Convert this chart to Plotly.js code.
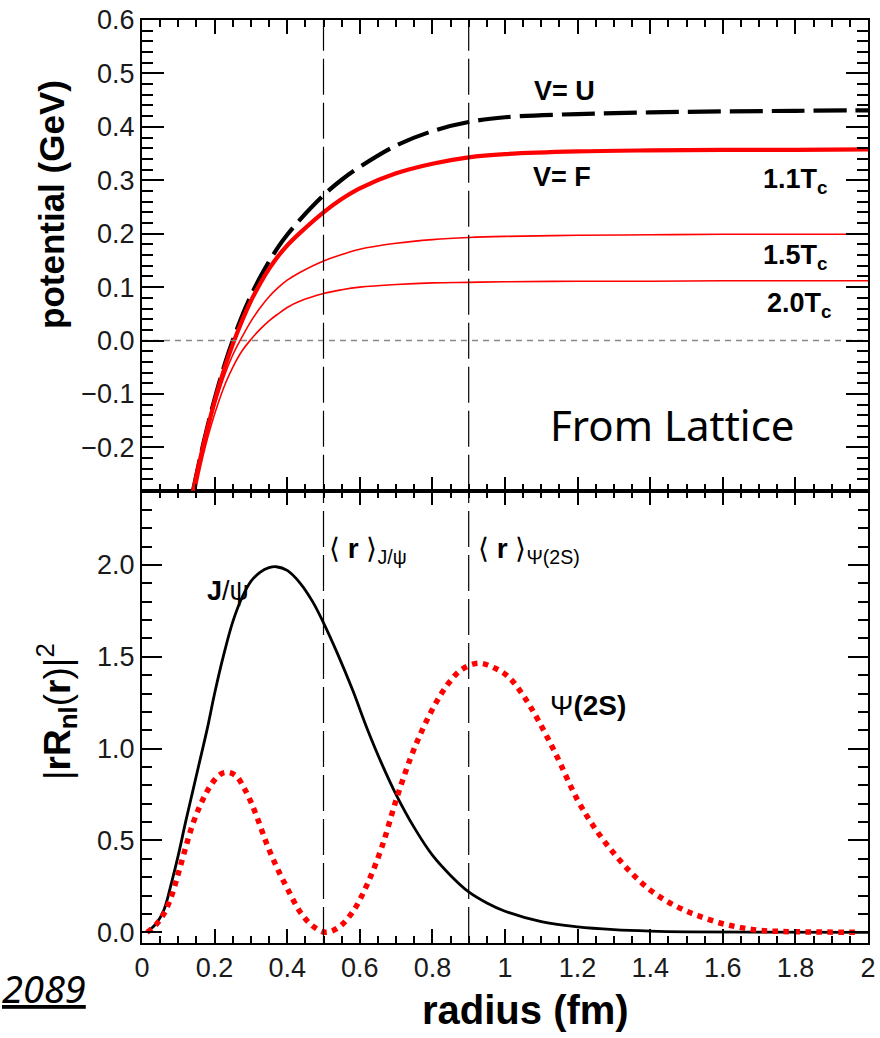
<!DOCTYPE html>
<html>
<head>
<meta charset="utf-8">
<script src="https://cdn.plot.ly/plotly-3.0.1.min.js"></script>
<style>
  html, body { margin: 0; padding: 0; background: #fff; }
  #chart { width: 880px; height: 1038px; }
</style>
</head>
<body>
<div id="chart"></div>
<script>
// ---- Heavy-quark potentials from lattice (GeV) vs radius (fm) ----
const rU   = [0.14,0.155,0.17,0.19,0.21,0.23,0.25,0.275,0.30,0.325,0.35,0.375,0.40,0.436,0.50,0.55,0.60,0.70,0.80,0.90,1.0,1.2,1.4,1.6,1.8,2.0];
const vU   = [-0.283,-0.235,-0.19,-0.135,-0.085,-0.04,0.0,0.045,0.084,0.118,0.148,0.175,0.198,0.227,0.272,0.301,0.325,0.365,0.392,0.409,0.418,0.424,0.427,0.429,0.430,0.431];

const rF11 = [0.14,0.155,0.17,0.19,0.21,0.23,0.25,0.275,0.30,0.325,0.35,0.375,0.40,0.436,0.50,0.55,0.60,0.70,0.80,0.90,1.0,1.2,1.4,1.6,1.8,2.0];
const vF11 = [-0.285,-0.237,-0.193,-0.139,-0.09,-0.046,-0.007,0.036,0.074,0.106,0.134,0.158,0.178,0.202,0.240,0.265,0.285,0.313,0.331,0.343,0.349,0.354,0.356,0.357,0.357,0.358];

const rF15 = [0.142,0.155,0.17,0.19,0.21,0.23,0.25,0.275,0.30,0.325,0.35,0.375,0.40,0.436,0.50,0.55,0.60,0.70,0.80,0.90,1.0,1.2,1.4,1.6,1.8,2.0];
const vF15 = [-0.283,-0.24,-0.197,-0.146,-0.10,-0.06,-0.027,0.006,0.036,0.061,0.082,0.099,0.113,0.128,0.149,0.161,0.171,0.182,0.189,0.193,0.195,0.197,0.198,0.199,0.199,0.199];

const rF20 = [0.147,0.16,0.175,0.19,0.21,0.23,0.25,0.275,0.30,0.325,0.35,0.375,0.40,0.436,0.50,0.55,0.60,0.70,0.80,0.90,1.0,1.2,1.4,1.6,1.8,2.0];
const vF20 = [-0.283,-0.24,-0.197,-0.16,-0.117,-0.08,-0.05,-0.02,0.002,0.021,0.037,0.05,0.062,0.074,0.088,0.095,0.100,0.105,0.108,0.109,0.110,0.111,0.111,0.112,0.112,0.112];

// ---- Radial probability densities |rR_nl(r)|^2 ----
const rJpsi = [0.014,0.04,0.06,0.08,0.10,0.12,0.14,0.16,0.18,0.20,0.225,0.25,0.275,0.30,0.325,0.35,0.37,0.40,0.436,0.47,0.50,0.538,0.58,0.62,0.66,0.70,0.75,0.80,0.85,0.90,0.95,1.0,1.1,1.2,1.3,1.4,1.5,1.7,2.0];
const pJpsi = [0.0,0.05,0.12,0.26,0.42,0.60,0.77,0.94,1.11,1.30,1.51,1.69,1.82,1.91,1.96,1.985,1.99,1.97,1.90,1.80,1.685,1.52,1.32,1.11,0.92,0.75,0.57,0.42,0.31,0.22,0.16,0.115,0.058,0.03,0.015,0.007,0.003,0.001,0.0];

const rPsi2S = [0.014,0.04,0.06,0.08,0.10,0.12,0.14,0.16,0.18,0.20,0.22,0.24,0.26,0.28,0.30,0.32,0.344,0.37,0.40,0.436,0.47,0.505,0.54,0.58,0.62,0.66,0.70,0.74,0.774,0.81,0.845,0.88,0.927,0.97,1.01,1.05,1.09,1.14,1.2,1.25,1.3,1.35,1.4,1.45,1.5,1.537,1.592,1.647,1.70,1.757,1.85,1.97];
const pPsi2S = [0.0,0.045,0.10,0.19,0.32,0.46,0.59,0.69,0.77,0.83,0.865,0.87,0.85,0.79,0.71,0.61,0.48,0.36,0.24,0.11,0.035,0.0,0.025,0.11,0.26,0.46,0.72,0.95,1.11,1.25,1.357,1.43,1.465,1.44,1.39,1.29,1.16,0.97,0.72,0.56,0.43,0.32,0.23,0.165,0.115,0.087,0.051,0.027,0.011,0.005,0.002,0.0];

// mean radii <r> of J/psi and psi(2S), marked by vertical lines (fm)
const meanR = [0.5, 0.9];

// axis ranges
const rRange = [0, 2];
const vRange = [-0.281, 0.6];
const pRange = [-0.058, 2.404];

// ---- page geometry ----
const W = 880, H = 1038, ML = 142, MR = 12, MT = 20, MB = 95;
const plotW = W - ML - MR, plotH = H - MT - MB;
const px = x => (x - ML) / plotW;
const py = y => (H - MB - y) / plotH;
const split = py(490.7);

const tickFont = { family: 'Liberation Sans, Arial, sans-serif', size: 27, color: '#1a1a1a' };

const traces = [
  { x: rU,   y: vU,   xaxis: 'x2', yaxis: 'y2', mode: 'lines', line: { color: '#000', width: 4.2, shape: 'spline' } },
  { x: rF11, y: vF11, xaxis: 'x2', yaxis: 'y2', mode: 'lines', line: { color: '#ff0000', width: 4.2, shape: 'spline' } },
  { x: rF15, y: vF15, xaxis: 'x2', yaxis: 'y2', mode: 'lines', line: { color: '#ff0000', width: 1.6, shape: 'spline' } },
  { x: rF20, y: vF20, xaxis: 'x2', yaxis: 'y2', mode: 'lines', line: { color: '#ff0000', width: 1.6, shape: 'spline' } },
  { x: rJpsi,  y: pJpsi,  xaxis: 'x', yaxis: 'y', mode: 'lines', line: { color: '#000', width: 2.8, shape: 'spline' } },
  { x: rPsi2S, y: pPsi2S, xaxis: 'x', yaxis: 'y', mode: 'lines', line: { color: '#ff0000', width: 5.5, shape: 'spline' } },
  // zero reference of the potential
  { x: rRange, y: [0, 0], xaxis: 'x2', yaxis: 'y2', mode: 'lines', line: { color: '#888', width: 1.6 } }
];

// vertical <r> markers running through both panels
meanR.forEach(r => {
  traces.push({ x: [r, r], y: vRange, xaxis: 'x2', yaxis: 'y2', mode: 'lines', line: { color: '#000', width: 1.2 } });
  traces.push({ x: [r, r], y: pRange, xaxis: 'x',  yaxis: 'y',  mode: 'lines', line: { color: '#000', width: 1.2 } });
});

// dash pattern of each trace, in trace order
const dashes = ['33px,9px', 'solid', 'solid', 'solid', 'solid', 'dot', '6px,5px',
                '36px,8px', '36px,8px', '36px,8px', '36px,8px'];

const bold = { family: 'Liberation Sans, Arial, sans-serif', color: '#000' };
function note(text, x, y, size, extra) {
  return Object.assign({
    text: text, xref: 'paper', yref: 'paper', x: px(x), y: py(y),
    xanchor: 'center', yanchor: 'middle', showarrow: false,
    font: Object.assign({}, bold, { size: size })
  }, extra || {});
}

const annotations = [
  note('<b>V= U</b>', 564, 91, 27),
  note('<b>V= F</b>', 562, 177, 27),
  note('<b>1.1T<sub>c</sub></b>', 830, 181, 27, { xanchor: 'right' }),
  note('<b>1.5T<sub>c</sub></b>', 830, 257, 27, { xanchor: 'right' }),
  note('<b>2.0T<sub>c</sub></b>', 834, 305, 27, { xanchor: 'right' }),
  note('From Lattice', 672, 424, 42, { font: { family: 'Noto Sans, Open Sans, sans-serif', size: 42, color: '#000' } }),
  note('<b>J</b>/ψ', 228, 591, 27),
  note('⟨ <b>r</b> ⟩<sub>J/ψ</sub>', 327, 550, 28, { xanchor: 'left' }),
  note('⟨ <b>r</b> ⟩<sub>Ψ(2S)</sub>', 476, 550, 28, { xanchor: 'left' }),
  note('Ψ<b>(2S)</b>', 588, 705, 28),
  note('<b>potential (GeV)</b>', 52, 205, 35, { textangle: -90 }),
  note('|<b>rR</b><sub><b>nl</b></sub>(<b>r</b>)|<sup>2</sup>', 56, 712, 37, { textangle: -90 }),
  note('<b>radius (fm)</b>', 525, 1010, 40),
  note('<i><u>2089</u></i>', 88, 988, 38, { xanchor: 'right', font: { family: 'Noto Sans, sans-serif', size: 38, color: '#000' } }),
  note('5', 862, 1030, 18, { yanchor: 'top', font: { family: 'Noto Sans, sans-serif', size: 18, color: '#aaa' } })
];

function axis(opts) {
  return Object.assign({
    ticks: 'inside', tickcolor: '#000', tickwidth: 1.6,
    showline: true, linewidth: 2, linecolor: '#000', mirror: 'allticks',
    showgrid: false, zeroline: false, tickfont: tickFont
  }, opts);
}

const layout = {
  width: W, height: H,
  margin: { l: ML, r: MR, t: MT, b: MB, autoexpand: false },
  showlegend: false,
  xaxis:  axis({ domain: [0, 1], anchor: 'y', range: rRange, dtick: 0.2, ticklen: 14,
                 minor: { dtick: 0.05, ticks: 'inside', ticklen: 7 } }),
  yaxis:  axis({ domain: [0, split], anchor: 'x', range: pRange, dtick: 0.5, tickformat: '.1f', ticklen: 20,
                 minor: { dtick: 0.1, ticks: 'inside', ticklen: 10 } }),
  xaxis2: axis({ domain: [0, 1], anchor: 'y2', range: rRange, dtick: 0.2, ticklen: 14, showticklabels: false,
                 minor: { dtick: 0.05, ticks: 'inside', ticklen: 7 } }),
  yaxis2: axis({ domain: [split, 1], anchor: 'x2', range: vRange, dtick: 0.1, tickformat: '.1f', ticklen: 22,
                 minor: { dtick: 0.02, ticks: 'inside', ticklen: 11 } })
};

// draw the frame and curves first, then line dashes and the text labels
Plotly.newPlot('chart', traces, layout, { displayModeBar: false })
  .then(gd => Plotly.restyle(gd, { 'line.dash': dashes }))
  .then(gd => Plotly.relayout(gd, { annotations: annotations }));
</script>
</body>
</html>
